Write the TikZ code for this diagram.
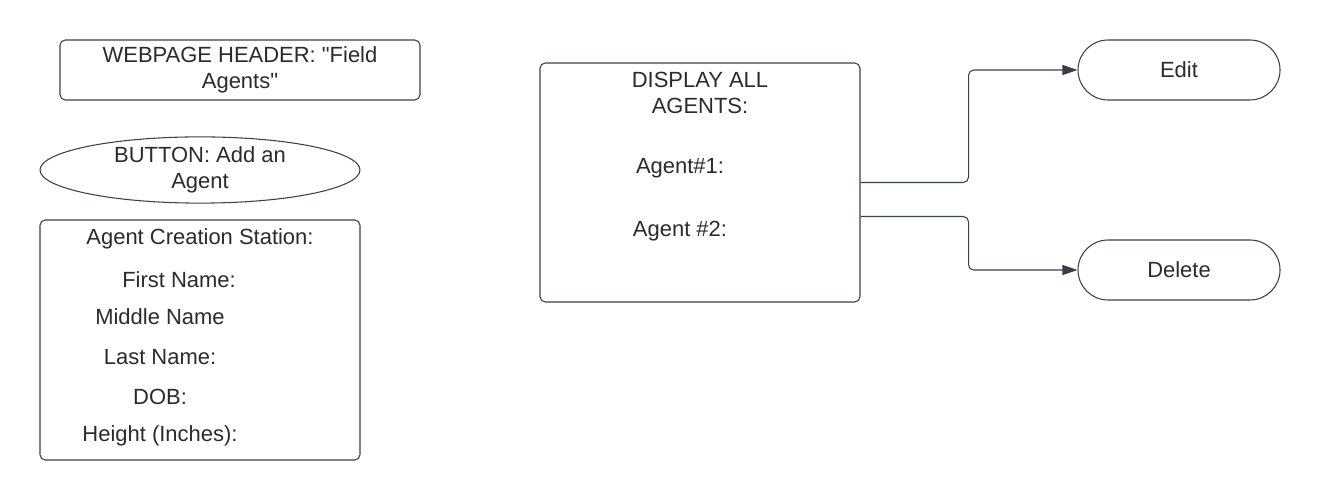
\documentclass[tikz,border=0pt]{standalone}
\usepackage{fontspec}
\setmainfont{Liberation Sans}[Ligatures=TeXOff]
\usepackage{xcolor}
\usepackage{tikz}
\usetikzlibrary{arrows.meta, positioning, shapes.geometric}

\definecolor{linegray}{HTML}{3A3F45}
\definecolor{textgray}{HTML}{2B2B2B}

\begin{document}
\begin{tikzpicture}[
      every node/.style={text=textgray, font=\fontsize{12.5}{15}\selectfont, align=center},
      box/.style={draw=linegray, line width=0.6pt, rounded corners=3pt, inner sep=0pt},
      oval/.style={draw=linegray, line width=0.6pt, ellipse, inner sep=0pt, minimum width=6.4cm, minimum height=1.2cm},
      pill/.style={draw=linegray, line width=0.6pt, rounded corners=0.6cm, inner sep=0pt, minimum width=4.04cm, minimum height=1.2cm},
      field/.style={inner sep=0pt},
      conn/.style={draw=linegray, line width=0.6pt, rounded corners=3pt, -{Triangle[length=0.3cm, width=0.2cm]}}
    ]
      \useasboundingbox (0,0) rectangle (26.8,-10);
      \node[box, minimum width=7.2cm, minimum height=1.2cm] (hdr) at (4.8,-1.4) {WEBPAGE HEADER: "Field\\Agents"};
      \node[oval] (btn) at (4,-3.4) {BUTTON: Add an\\Agent};
      \node[box, minimum width=6.4cm, minimum height=4.8cm] (form) at (4,-6.8) {};
      \node[field] (title) at (4,-4.78) {Agent Creation Station:};
      \node[field] (first) at (3.58,-5.6) {First Name:};
      \node[field] (middle) at (3.2,-6.34) {Middle Name};
      \node[field] (last) at (3.2,-7.14) {Last Name:};
      \node[field] (dob) at (3.2,-7.94) {DOB:};
      \node[field] (height) at (3.2,-8.72) {Height (Inches):};
      \node[box, minimum width=6.4cm, minimum height=4.78cm] (disp) at (14,-3.65) {};
      \node[field] (dtitle) at (14,-1.86) {DISPLAY ALL\\AGENTS:};
      \node[field] (ag1) at (13.6,-3.36) {Agent\#1:};
      \node[field] (ag2) at (13.6,-4.62) {Agent \#2:};
      \node[pill] (edit) at (23.58,-1.4) {Edit};
      \node[pill] (del) at (23.58,-5.4) {Delete};
      \draw[conn] (disp.east) -- ++(2.16,0) |- (edit.west);
      \draw[conn] ([yshift=-0.68cm]disp.east) -- ++(2.16,0) |- (del.west);
    \end{tikzpicture}
\end{document}
